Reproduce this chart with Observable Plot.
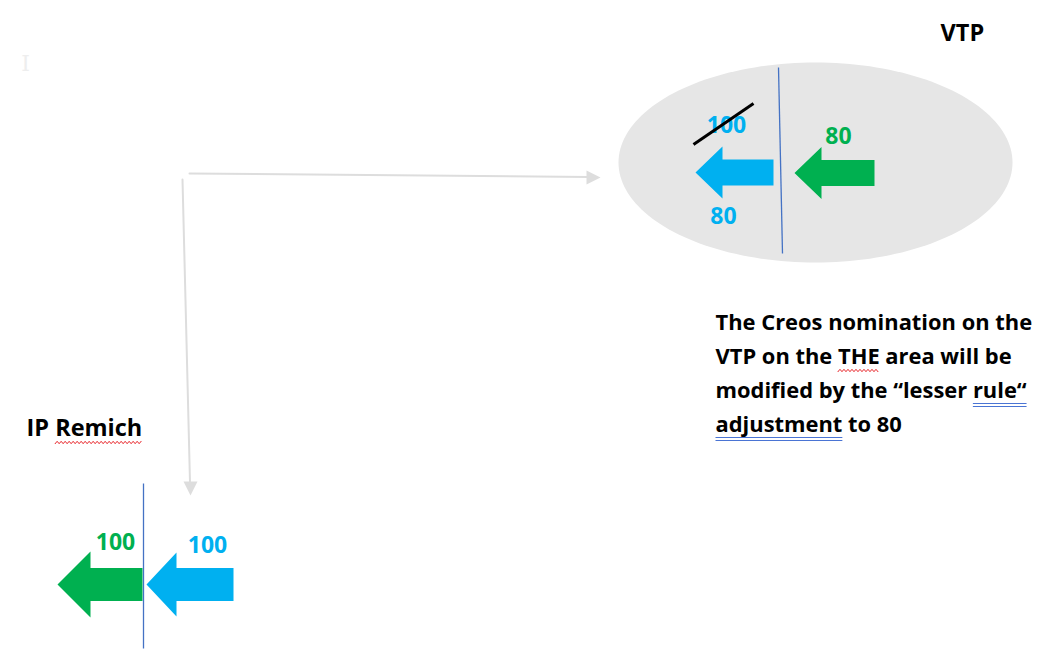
<!DOCTYPE html>
<html><head><meta charset="utf-8">
<script src="https://cdn.jsdelivr.net/npm/d3@7"></script>
<script src="https://cdn.jsdelivr.net/npm/@observablehq/plot@0.6"></script>
<style>html,body{margin:0;padding:0;background:#fff;overflow:hidden}</style>
</head><body><div id="chart"></div>
<script>
// ---- diagram data ----
const nodeTitles = [
  {text: "VTP", x: 940, y: 33},
  {text: "IP Remich", x: 26, y: 428}
];
const vtpValues = [
  {text: "100", x: 726, y: 125, side: "in", struck: true},
  {text: "80", x: 723, y: 216, side: "in", struck: false},
  {text: "80", x: 838, y: 136, side: "out", struck: false}
];
const remichValues = [
  {text: "100", x: 115, y: 542, side: "out"},
  {text: "100", x: 207, y: 545, side: "in"}
];
const noteLines = [
  "The Creos nomination on the",
  "VTP on the THE area will be",
  "modified by the \u201clesser rule\u201c",
  "adjustment to 80"
];
// words marked by the spell / grammar checker: [line, word]
const spellMarks = [{line: 1, word: "THE"}];
const grammarMarks = [{line: 2, word: "rule\u201c"}, {line: 3, word: "adjustment"}];
// arrows pointing left: tip, head back, tail, half heights
const arrows = [
  {id: "vtpIn",  side: "in",  tx: 695, ty: 172, hx: 722, bx: 773, hh: 26, sh: 13},
  {id: "vtpOut", side: "out", tx: 794, ty: 172.5, hx: 821, bx: 874, hh: 26, sh: 13},
  {id: "remOut", side: "out", tx: 57,  ty: 584, hx: 90,  bx: 142, hh: 33, sh: 16.5},
  {id: "remIn",  side: "in",  tx: 146, ty: 584, hx: 176, bx: 233, hh: 32, sh: 16.5}
];
const borders = [
  {x1: 778, y1: 67, x2: 782, y2: 253},
  {x1: 143, y1: 483, x2: 143, y2: 648}
];
const connector = [
  {seg: "h", pts: [[189, 173], [588, 176.5]], tip: [600, 177], dir: "right"},
  {seg: "v", pts: [[182, 179], [189.5, 482]], tip: [190, 495], dir: "down"}
];
const vtpArea = {cx: 815, cy: 162, rx: 197, ry: 100};

// ---- styles ----
const colors = {in: "#00b0f0", out: "#00b050"};
const font = "'Open Sans', Lato, sans-serif";
const noteSize = 21.9, titleSize = 23.5;

// ---- text measurement ----
const ctx = document.createElement("canvas").getContext("2d");
function textW(str, size) { ctx.font = `bold ${size}px 'Open Sans'`; return ctx.measureText(str).width; }

// ---- build geometry ----
const arrowPts = arrows.flatMap(a => [
  [a.tx, a.ty], [a.hx, a.ty - a.hh], [a.hx, a.ty - a.sh], [a.bx, a.ty - a.sh],
  [a.bx, a.ty + a.sh], [a.hx, a.ty + a.sh], [a.hx, a.ty + a.hh], [a.tx, a.ty]
].map(([x, y]) => ({id: a.id, side: a.side, x, y})));

const ellipsePts = d3.range(0, 361, 2).map(t => ({
  x: vtpArea.cx + vtpArea.rx * Math.cos(t * Math.PI / 180),
  y: vtpArea.cy + vtpArea.ry * Math.sin(t * Math.PI / 180)
}));

const connLines = connector.flatMap(c => c.pts.map(([x, y]) => ({seg: c.seg, x, y})));
const connHeads = connector.flatMap(c => {
  const [x, y] = c.tip, L = 14, w = 7;
  const p = c.dir === "right"
    ? [[x, y], [x - L, y - w], [x - L, y + w], [x, y]]
    : [[x, y], [x - w, y - L], [x + w, y - L], [x, y]];
  return p.map(([px, py]) => ({seg: c.seg, x: px, y: py}));
});

function wavy(id, x1, x2, y) {
  const pts = [];
  for (let x = x1, i = 0; x <= x2; x += 2, i++) pts.push({id, x, y: y + (i % 2 ? -1.2 : 1.2)});
  return pts;
}
const struck = vtpValues.find(d => d.struck);
const strike = [{x1: struck.x - 33, y1: struck.y + 19, x2: struck.x + 27, y2: struck.y - 22}];

const noteX = 715, noteY0 = 322, noteDy = 34;
const notes = noteLines.map((t, i) => ({text: t, x: noteX, y: noteY0 + i * noteDy}));
function wordSpan(m, size) {
  const line = noteLines[m.line], idx = line.indexOf(m.word);
  const x1 = noteX + textW(line.slice(0, idx), size);
  return {x1, x2: x1 + textW(m.word, size), y: noteY0 + m.line * noteDy};
}

const remich = nodeTitles[1];
const remX1 = remich.x + textW("IP ", titleSize), remX2 = remich.x + textW("IP Remich", titleSize);
const squiggles = [
  ...wavy("remich", remX1, remX2, remich.y + 14),
  ...spellMarks.flatMap((m, i) => { const s = wordSpan(m, noteSize); return wavy("s" + i, s.x1, s.x2, s.y + 14); })
];
const doubleLines = grammarMarks.flatMap(m => {
  const s = wordSpan(m, noteSize);
  return [{x1: s.x1, x2: s.x2, y: s.y + 13}, {x1: s.x1, x2: s.x2, y: s.y + 16}];
});

const plot = Plot.plot({
  width: 1057, height: 657,
  margin: 0,
  x: {domain: [0, 1057], range: [0, 1057], axis: null},
  y: {domain: [0, 657], range: [0, 657], axis: null},
  style: {background: "#fff"},
  marks: [
    Plot.text([{x: 25, y: 63}], {x: "x", y: "y", text: () => "I", fill: "#eeeeee", fontSize: 22, fontFamily: "DejaVu Serif"}),
    Plot.line(ellipsePts, {x: "x", y: "y", fill: "#e6e6e6", stroke: "none", curve: "linear-closed"}),
    Plot.link(borders, {x1: "x1", y1: "y1", x2: "x2", y2: "y2", stroke: "#4472c4", strokeWidth: 1.3}),
    Plot.line(connLines, {x: "x", y: "y", z: "seg", stroke: "#dddddd", strokeWidth: 2}),
    Plot.line(connHeads, {x: "x", y: "y", z: "seg", fill: "#dddddd", stroke: "none"}),
    ...arrows.map(a => Plot.line(arrowPts.filter(p => p.id === a.id),
      {x: "x", y: "y", fill: colors[a.side], stroke: "none", curve: "linear-closed"})),
    Plot.text(vtpValues, {x: "x", y: "y", text: "text", fill: d => colors[d.side], fontSize: 23, fontWeight: "bold", fontFamily: font}),
    Plot.text(remichValues, {x: "x", y: "y", text: "text", fill: d => colors[d.side], fontSize: 23, fontWeight: "bold", fontFamily: font}),
    Plot.link(strike, {x1: "x1", y1: "y1", x2: "x2", y2: "y2", stroke: "#000", strokeWidth: 3}),
    Plot.text(nodeTitles, {x: "x", y: "y", text: "text", fill: "#000", fontSize: titleSize, fontWeight: "bold", fontFamily: font, textAnchor: "start"}),
    Plot.text(notes, {x: "x", y: "y", text: "text", fill: "#000", fontSize: noteSize, fontWeight: "bold", fontFamily: font, textAnchor: "start"}),
    Plot.line(squiggles, {x: "x", y: "y", z: "id", stroke: "#e8262b", strokeWidth: 1}),
    Plot.link(doubleLines, {x1: "x1", y1: "y", x2: "x2", y2: "y", stroke: "#4a74d4", strokeWidth: 1.2})
  ]
});
document.getElementById("chart").appendChild(plot);
</script></body></html>
